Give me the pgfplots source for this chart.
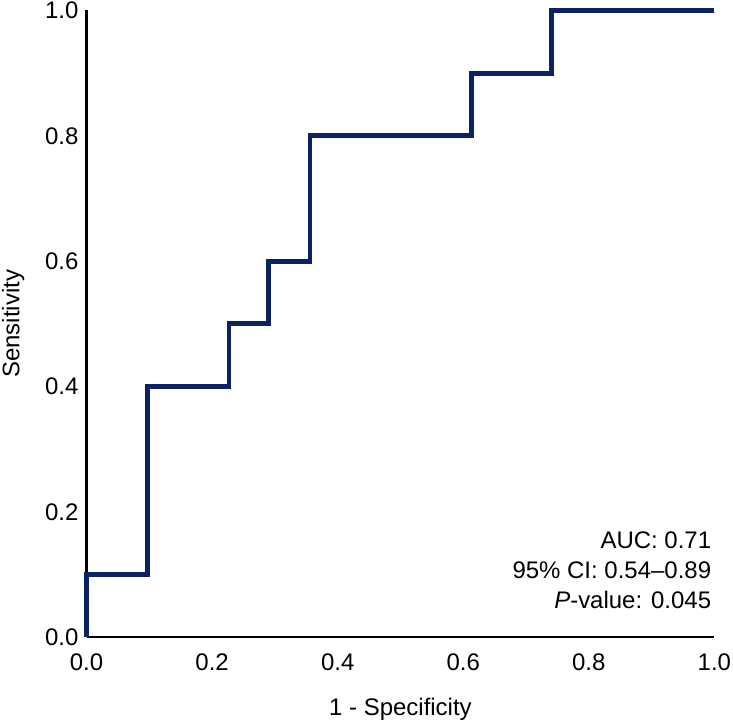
\documentclass[border=2bp]{standalone}
\usepackage{pgfplots}
\pgfplotsset{compat=1.18}
\usepackage{fontspec}
\setmainfont{Liberation Sans}
\definecolor{roc}{HTML}{0B2265}
\begin{document}
\fontsize{24}{28}\selectfont
\begin{tikzpicture}
\begin{axis}[
  scale only axis,
  width=626bp, height=625bp,
  xmin=0, xmax=1, ymin=0, ymax=1,
  axis x line=bottom, axis y line=left,
  axis line style={line width=2.3bp, -},
  xtick={0,0.2,0.4,0.6,0.8,1.0}, ytick={0,0.2,0.4,0.6,0.8,1.0},
  major tick length=0pt,
  /pgf/number format/fixed,
  /pgf/number format/fixed zerofill,
  /pgf/number format/precision=1,
  /pgf/number format/assume math mode=true,
  ticklabel style={font=\fontsize{24}{28}\selectfont, inner sep=0pt},
  xticklabel style={anchor=north, yshift=-16bp},
  yticklabel style={anchor=east, xshift=-8bp},
  xlabel={1 - Specificity}, ylabel={Sensitivity},
  label style={font=\fontsize{24}{28}\selectfont, inner sep=0pt},
  xlabel style={at={(axis description cs:0.5,0)}, anchor=base, yshift=-78bp},
  ylabel style={at={(axis description cs:0,0.5)}, anchor=base, yshift=67bp},
  clip=false,
]
\addplot[roc, line width=4.8bp] coordinates {
(0,0) (0,0.1) (0.097,0.1) (0.097,0.4) (0.227,0.4) (0.227,0.5) (0.29,0.5) (0.29,0.6) (0.356,0.6) (0.356,0.8) (0.613,0.8) (0.613,0.9) (0.741,0.9) (0.741,1.0) (1.0,1.0)
};
\node[anchor=base east, inner sep=0pt] at ([xshift=-3bp, yshift=89bp]axis description cs:1,0) {AUC: 0.71};
\node[anchor=base east, inner sep=0pt] at ([xshift=-3bp, yshift=59bp]axis description cs:1,0) {95\% CI: 0.54--0.89};
\node[anchor=base east, inner sep=0pt] at ([xshift=-3bp, yshift=29bp]axis description cs:1,0) {\textit{P}-value: 0.045};
\end{axis}
\end{tikzpicture}
\end{document}
